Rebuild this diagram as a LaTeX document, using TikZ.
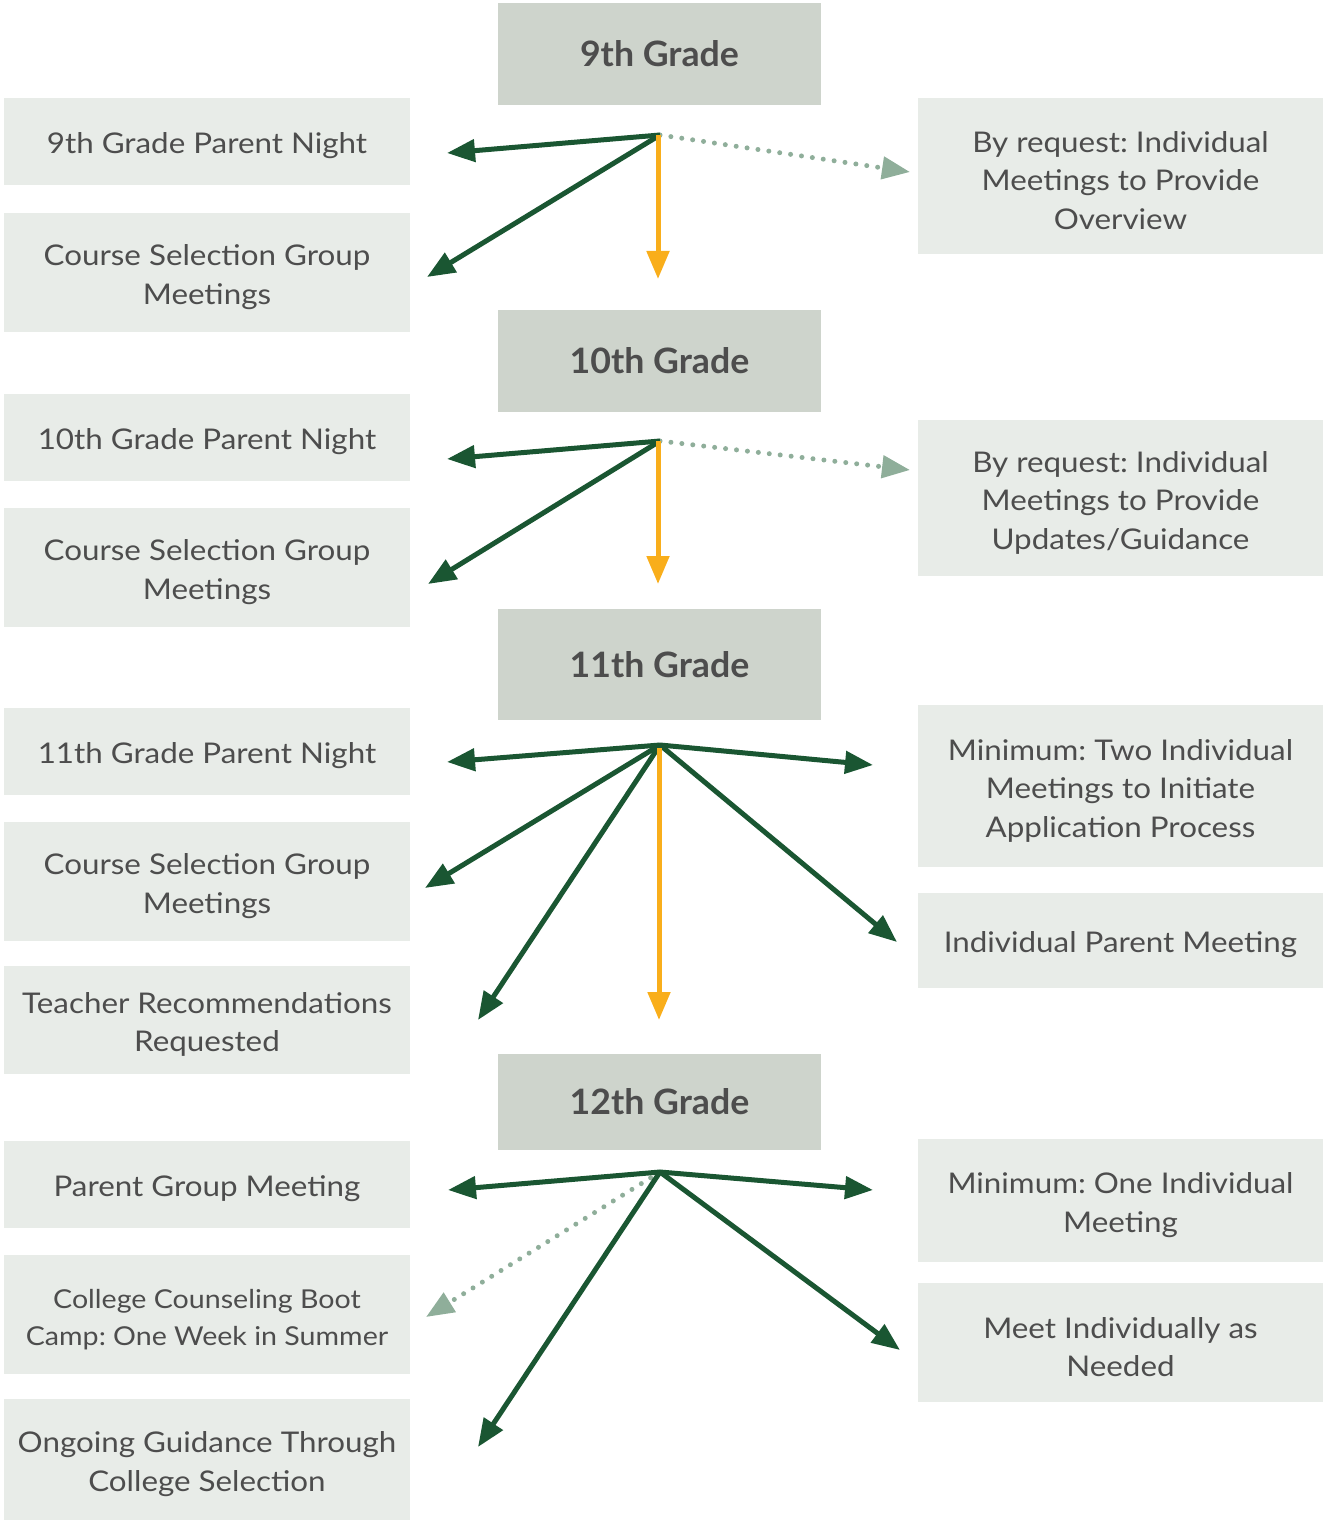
\documentclass[tikz,border=0pt]{standalone}
\usepackage{fontspec}
\setmainfont{Lato}[FakeStretch=1.1]
\newfontfamily\gradefont{Lato}[FakeStretch=1.02]
\frenchspacing
\usetikzlibrary{arrows.meta}
\definecolor{dkgreen}{HTML}{1A5632}
\definecolor{orng}{HTML}{F9AE1B}
\definecolor{ltgreen}{HTML}{8FAE9A}
\definecolor{gradefill}{HTML}{CED4CC}
\definecolor{boxfill}{HTML}{E8ECE8}
\definecolor{txt}{HTML}{4D4D4D}
\newcommand\topstrut{\rule{0pt}{30pt}}
\tikzset{
  x=1pt, y=-1pt,
  gradebox/.style={fill=gradefill, minimum width=323pt, text=txt, inner sep=0pt,
    font=\gradefont\fontsize{35}{40}\selectfont\bfseries},
  lbox/.style={fill=boxfill, minimum width=406pt, text=txt, inner sep=0pt, align=center,
    font=\fontsize{28.5}{38.5}\selectfont},
  rbox/.style={lbox, minimum width=405pt},
  solidarr/.style={draw=dkgreen, line width=5pt, -{Triangle[length=28pt,width=22pt]}},
  orarr/.style={draw=orng, line width=5pt, -{Triangle[length=28pt,width=22pt]}},
  dotarr/.style={draw=ltgreen, line width=5pt, line cap=round, dash pattern=on 0pt off 11pt,
    -{Triangle[length=28pt,width=22pt,fill=ltgreen,line cap=butt]}},
}
\begin{document}
\begin{tikzpicture}
\useasboundingbox (0,0) rectangle (1325,1522);
% grade boxes
\node[gradebox, minimum height=102pt] (g9) at (659.5,54) {9th Grade};
\node[gradebox, minimum height=102pt] (g10) at (659.5,361) {10th Grade};
\node[gradebox, minimum height=111pt] (g11) at (659.5,664.5) {11th Grade};
\node[gradebox, minimum height=96pt] (g12) at (659.5,1102) {12th Grade};
% left boxes
\node[lbox, minimum height=87pt] (l9a) at (207,141.5) {\topstrut 9th Grade Parent Night};
\node[lbox, minimum height=119pt] (l9b) at (207,272.5) {\topstrut Course Selection Group\\Meetings};
\node[lbox, minimum height=87pt] (l10a) at (207,437.5) {\topstrut 10th Grade Parent Night};
\node[lbox, minimum height=119pt] (l10b) at (207,567.5) {\topstrut Course Selection Group\\Meetings};
\node[lbox, minimum height=87pt] (l11a) at (207,751.5) {\topstrut 11th Grade Parent Night};
\node[lbox, minimum height=119pt] (l11b) at (207,881.5) {\topstrut Course Selection Group\\Meetings};
\node[lbox, minimum height=108pt] (l11c) at (207,1020) {\topstrut Teacher Recommendations\\Requested};
\node[lbox, minimum height=87pt] (l12a) at (207,1184.5) {\topstrut Parent Group Meeting};
\node[lbox, minimum height=119pt, font=\fontsize{26}{37}\selectfont] (l12b) at (207,1314.5) {\topstrut College Counseling Boot\\Camp: One Week in Summer};
\node[lbox, minimum height=121pt] (l12c) at (207,1459.5) {\topstrut Ongoing Guidance Through\\College Selection};
% right boxes
\node[rbox, minimum height=156pt] (r9) at (1120.5,176) {\topstrut By request: Individual\\Meetings to Provide\\Overview};
\node[rbox, minimum height=156pt] (r10) at (1120.5,498) {\topstrut By request: Individual\\Meetings to Provide\\Updates/Guidance};
\node[rbox, minimum height=162pt] (r11a) at (1120.5,786) {\topstrut Minimum: Two Individual\\Meetings to Initiate\\Application Process};
\node[rbox, minimum height=95pt] (r11b) at (1120.5,940.5) {\topstrut Individual Parent Meeting};
\node[rbox, minimum height=123pt] (r12a) at (1120.5,1200.5) {\topstrut Minimum: One Individual\\Meeting};
\node[rbox, minimum height=119pt] (r12b) at (1120.5,1342.5) {\topstrut Meet Individually as\\Needed};
% hubs and arrow ends
\coordinate (h9) at (660,135);
\coordinate (h10) at (660,441);
\coordinate (h11) at (660,745);
\coordinate (h12) at (660,1172);
\coordinate (e9a) at (447,153);
\coordinate (e9b) at (427,277);
\coordinate (e9c) at (658,279);
\coordinate (e9d) at (910,172);
\coordinate (e10a) at (447,459);
\coordinate (e10b) at (428,584);
\coordinate (e10c) at (658,584);
\coordinate (e10d) at (910,470);
\coordinate (e11a) at (447,762);
\coordinate (e11b) at (425,888);
\coordinate (e11c) at (478,1020);
\coordinate (e11d) at (659,1020);
\coordinate (e11e) at (873,765);
\coordinate (e11f) at (897,942);
\coordinate (e12a) at (448,1190);
\coordinate (e12b) at (426,1317);
\coordinate (e12c) at (478,1447);
\coordinate (e12d) at (873,1190);
\coordinate (e12e) at (900,1350);
% arrows
\draw[dotarr] (h9) -- (e9d);
\draw[solidarr] (h9) -- (e9a);
\draw[solidarr] (h9) -- (e9b);
\draw[orarr] (658,135) -- (e9c);
\draw[dotarr] (h10) -- (e10d);
\draw[solidarr] (h10) -- (e10a);
\draw[solidarr] (h10) -- (e10b);
\draw[orarr] (658,441) -- (e10c);
\draw[solidarr] (h11) -- (e11a);
\draw[solidarr] (h11) -- (e11b);
\draw[solidarr] (h11) -- (e11c);
\draw[solidarr] (h11) -- (e11e);
\draw[solidarr] (h11) -- (e11f);
\draw[orarr] (659,748) -- (e11d);
\draw[dotarr] (h12) -- (e12b);
\draw[solidarr] (h12) -- (e12a);
\draw[solidarr] (h12) -- (e12c);
\draw[solidarr] (h12) -- (e12d);
\draw[solidarr] (h12) -- (e12e);
\end{tikzpicture}
\end{document}
